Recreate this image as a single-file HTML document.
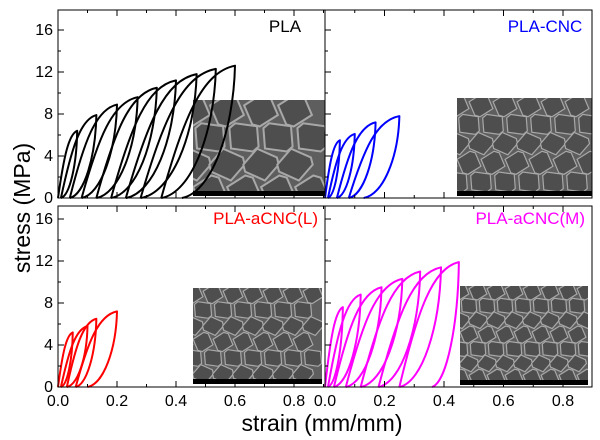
<!DOCTYPE html>
<html><head><meta charset="utf-8">
<style>
body{margin:0;background:#fff;}
svg{display:block;font-family:"Liberation Sans",Arial,sans-serif;}
</style></head>
<body>
<svg id="chart" width="600" height="440" viewBox="0 0 600 440">
<g id="bg"></g>
<g id="sems"></g>
<g id="curves"></g>
<g id="axes"></g>
</svg>
<script>
// ---- data ----
const panelNames = ["PLA","PLA-CNC","PLA-aCNC(L)","PLA-aCNC(M)"];
const panelColors = ["#000000","#0000ff","#ff0000","#ff00ff"];
const plaPeakStrain = [0.065,0.13,0.2,0.27,0.335,0.4,0.47,0.535,0.6];
const plaPeakStress = [6.4,7.9,8.9,9.6,10.5,11.2,11.8,12.3,12.6];
const plaResidual   = [0.01,0.04,0.08,0.13,0.18,0.23,0.28,0.35,0.42];
const cncPeakStrain = [0.05,0.1,0.17,0.25];
const cncPeakStress = [5.5,6.1,7.2,7.8];
const cncResidual   = [0.01,0.04,0.08,0.13];
const lPeakStrain = [0.05,0.1,0.13,0.2];
const lPeakStress = [5.2,5.8,6.5,7.2];
const lResidual   = [0.01,0.03,0.06,0.1];
const mPeakStrain = [0.06,0.12,0.19,0.26,0.32,0.39,0.45];
const mPeakStress = [7.6,8.8,9.5,10.3,11.0,11.4,11.9];
const mResidual   = [0.01,0.03,0.07,0.12,0.18,0.25,0.36];
const yTicks = [0,4,8,12,16];
const yTickLabels = ["0","4","8","12","16"];
const xTicks = [0,0.2,0.4,0.6,0.8];
const xTickLabels = ["0.0","0.2","0.4","0.6","0.8"];

const NS="http://www.w3.org/2000/svg";
function mk(tag,attrs,parent){const e=document.createElementNS(NS,tag);for(const k in attrs)e.setAttribute(k,attrs[k]);parent.appendChild(e);return e;}

const panels=[
 {x0:58,x1:325,y0:198,yTop:10,sx:295,sy:10.5,pk:plaPeakStrain,ps:plaPeakStress,res:plaResidual,lx:285,ly:32,anchor:"middle",left:true,bottom:false,sem:[193,100,132,96]},
 {x0:325,x1:592,y0:198,yTop:10,sx:297.5,sy:10.5,pk:cncPeakStrain,ps:cncPeakStress,res:cncResidual,lx:545,ly:32,anchor:"middle",left:false,bottom:false,sem:[457,98,135,98]},
 {x0:58,x1:325,y0:387,yTop:206,sx:295,sy:10.5,pk:lPeakStrain,ps:lPeakStress,res:lResidual,lx:318,ly:224,anchor:"end",left:true,bottom:true,sem:[193,288,129,96]},
 {x0:325,x1:592,y0:387,yTop:206,sx:297.5,sy:10.5,pk:mPeakStrain,ps:mPeakStress,res:mResidual,lx:585,ly:224,anchor:"end",left:false,bottom:true,sem:[460,286,128,99]}
];
const axes=document.getElementById('axes'),curves=document.getElementById('curves'),sems=document.getElementById('sems');

panels.forEach((p,i)=>{
 const X=v=>p.x0+v*p.sx, Y=v=>p.y0-v*p.sy;
 const fr=mk('rect',{x:p.x0,y:p.yTop,width:p.x1-p.x0,height:p.y0-p.yTop,fill:'none',stroke:'#000','stroke-width':1},axes);
 
 
 for(let v=0;v<=17;v+=2){
  const major=v%4===0;
  const t=mk('line',{x1:p.x0,x2:p.x0+(major?6:3),y1:Y(v),y2:Y(v),stroke:'#000'},axes);
  
  
 }
 if(p.left){
  yTicks.forEach((v,k)=>{
   const t=mk('text',{x:p.x0-5,y:Y(v)+5,'text-anchor':'end','font-size':16,fill:'#000'},axes);
   t.textContent=yTickLabels[k];
   
   
  });
 }
 for(let k=0;k<=9;k++){
  const v=k*0.1;if(X(v)>p.x1)break;
  const major=k%2===0;
  const t=mk('line',{x1:X(v),x2:X(v),y1:p.y0,y2:p.y0-(major?6:3),stroke:'#000'},axes);
  
  
  const t2=mk('line',{x1:X(v),x2:X(v),y1:p.yTop,y2:p.yTop+(major?6:3),stroke:'#000'},axes);
  
  
 }
 if(p.bottom){
  xTicks.forEach((v,k)=>{
   const t=mk('text',{x:X(v),y:p.y0+19,'text-anchor':'middle','font-size':16,fill:'#000'},axes);
   t.textContent=xTickLabels[k];
   
   
  });
 }
 const lb=mk('text',{x:p.lx,y:p.ly,'text-anchor':p.anchor,'font-size':17,fill:panelColors[i]},axes);
 lb.textContent=panelNames[i];
 
 
 let prev=0;
 p.pk.forEach((pk,k)=>{
  const s=p.ps[k], r=p.res[k], d=pk-prev;
  const load=`M${X(prev)},${Y(0)} C${X(prev+0.3*d)},${Y(0.6*s)} ${X(prev+0.55*d)},${Y(0.95*s)} ${X(pk)},${Y(s)}`;
  const u=pk-r;
  const unload=`C${X(pk-0.03*u)},${Y(0.5*s)} ${X(pk-0.45*u)},${Y(0.04*s)} ${X(r)},${Y(0)}`;
  const path=mk('path',{d:load+' '+unload,fill:'none',stroke:panelColors[i],'stroke-width':2,'stroke-linejoin':'round'},curves);
  
  
  prev=r;
 });
 const [sx,sy,sw,sh]=p.sem;
 const g=mk('g',{},sems);
 
 
 mk('rect',{x:sx,y:sy,width:sw,height:sh,fill:'#5e5e5e'},g);
 const cell= i===0?34: i===1?24: i===2?20:18;
 let row=0;
 for(let yy=sy-cell/2;yy<sy+sh;yy+=cell*0.8){
  for(let xx=sx-cell/2+(row%2)*cell/2;xx<sx+sw;xx+=cell){
   const pts=[];
   for(let a=0;a<6;a++){const ang=Math.PI/3*a+0.3*((row+a)%3);pts.push((xx+Math.cos(ang)*cell*0.52).toFixed(1)+','+(yy+Math.sin(ang)*cell*0.48).toFixed(1));}
   mk('polygon',{points:pts.join(' '),fill:'#4e4e4e',stroke:'#a8a8a8','stroke-width':i===0?2:1.2},g);
  }
  row++;
 }
 mk('rect',{x:sx,y:sy+sh-5,width:sw,height:5,fill:'#000'},g);
 const cp=mk('clipPath',{id:'c'+i},g);mk('rect',{x:sx,y:sy,width:sw,height:sh},cp);
 g.setAttribute('clip-path','url(#c'+i+')');
});
const yt=mk('text',{x:0,y:0,transform:'translate(30,208) rotate(-90)','text-anchor':'middle','font-size':23,fill:'#000'},axes);
yt.textContent='stress (MPa)';


const xt=mk('text',{x:322,y:431,'text-anchor':'middle','font-size':23,fill:'#000'},axes);
xt.textContent='strain (mm/mm)';


</script>
</body></html>
